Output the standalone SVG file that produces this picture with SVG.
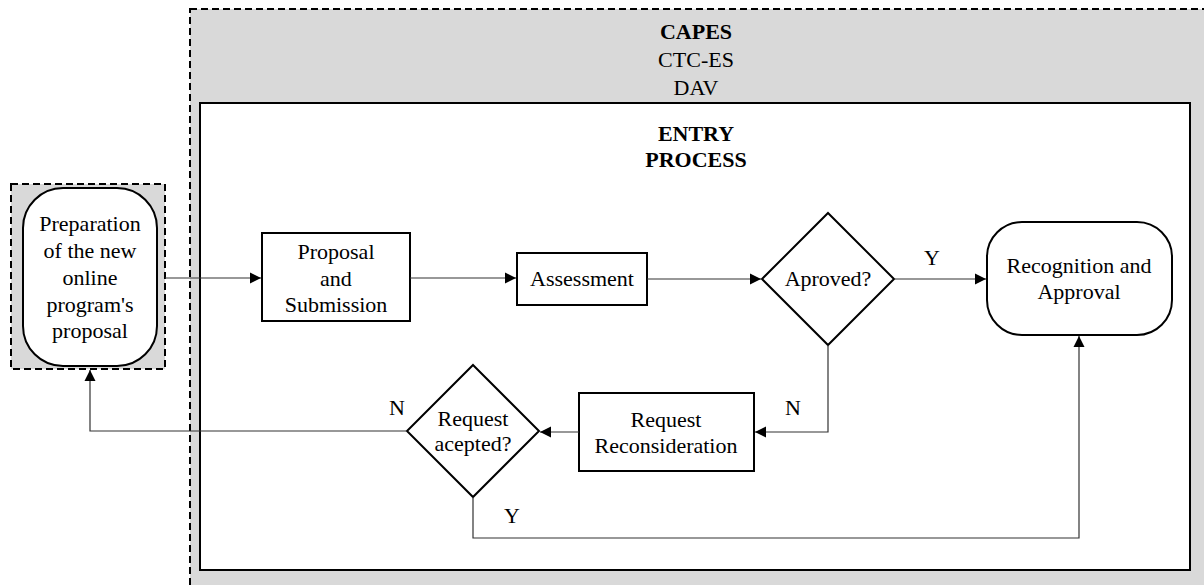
<svg xmlns="http://www.w3.org/2000/svg" width="1204" height="585" viewBox="0 0 1204 585">
<style>
text{font-family:"Liberation Serif","Times New Roman","DejaVu Serif",serif;font-size:22px;fill:#000;text-anchor:middle}
.b{font-weight:bold}
.node{fill:#fff;stroke:#000;stroke-width:2}
.dash{fill:#d9d9d9;stroke:#000;stroke-width:2;stroke-dasharray:7,4}
.con{fill:none;stroke:#333;stroke-width:1.2}
</style>
<defs>
<marker id="ah" markerWidth="12" markerHeight="12" refX="11" refY="6" orient="auto" markerUnits="userSpaceOnUse">
<path d="M0,0.5 L11,6 L0,11.5 Z" fill="#000"/>
</marker>
</defs>
<g id="capes">
<rect class="dash" x="190" y="9" width="1030" height="600"/>
<text class="b" x="696" y="39">CAPES</text>
<text x="696" y="67">CTC-ES</text>
<text x="696" y="95">DAV</text>
</g>
<g id="entry">
<rect x="200" y="103" width="990" height="467" fill="#fff" stroke="#000" stroke-width="2"/>
<text class="b" x="696" y="141">ENTRY</text>
<text class="b" x="696" y="167">PROCESS</text>
</g>
<g id="prep">
<rect class="dash" x="11" y="184" width="154" height="185"/>
<rect class="node" x="23" y="188" width="134" height="178" rx="40"/>
<text x="90" y="231">Preparation</text>
<text x="90" y="258">of the new</text>
<text x="90" y="285">online</text>
<text x="90" y="312">program's</text>
<text x="90" y="338">proposal</text>
</g>
<g id="proposal">
<rect class="node" x="262" y="233" width="148" height="88"/>
<text x="336" y="259">Proposal</text>
<text x="336" y="286">and</text>
<text x="336" y="312">Submission</text>
</g>
<g id="assessment">
<rect class="node" x="517" y="253" width="130" height="52"/>
<text x="582" y="286">Assessment</text>
</g>
<g id="aproved">
<polygon class="node" points="828,213 894,279 828,345 762,279"/>
<text x="828" y="286">Aproved?</text>
</g>
<g id="recognition">
<rect class="node" x="987" y="222" width="185" height="113" rx="35"/>
<text x="1079" y="273">Recognition and</text>
<text x="1079" y="299">Approval</text>
</g>
<g id="reconsideration">
<rect class="node" x="579" y="393" width="175" height="78"/>
<text x="666" y="427">Request</text>
<text x="666" y="453">Reconsideration</text>
</g>
<g id="accepted">
<polygon class="node" points="473,365 539,431 473,497 407,431"/>
<text x="473" y="426">Request</text>
<text x="473" y="451">acepted?</text>
</g>
<g id="connectors">
<path class="con" d="M165,278 H261" marker-end="url(#ah)"/>
<path class="con" d="M410,278 H516" marker-end="url(#ah)"/>
<path class="con" d="M647,279 H761" marker-end="url(#ah)"/>
<path class="con" d="M894,279 H986" marker-end="url(#ah)"/>
<path class="con" d="M828,345 V432 H755" marker-end="url(#ah)"/>
<path class="con" d="M579,432 H540" marker-end="url(#ah)"/>
<path class="con" d="M407,431 H90 V370" marker-end="url(#ah)"/>
<path class="con" d="M473,497 V538 H1079 V336" marker-end="url(#ah)"/>
<text x="932" y="265">Y</text>
<text x="793" y="415">N</text>
<text x="397" y="415">N</text>
<text x="512" y="523">Y</text>
</g>
</svg>
